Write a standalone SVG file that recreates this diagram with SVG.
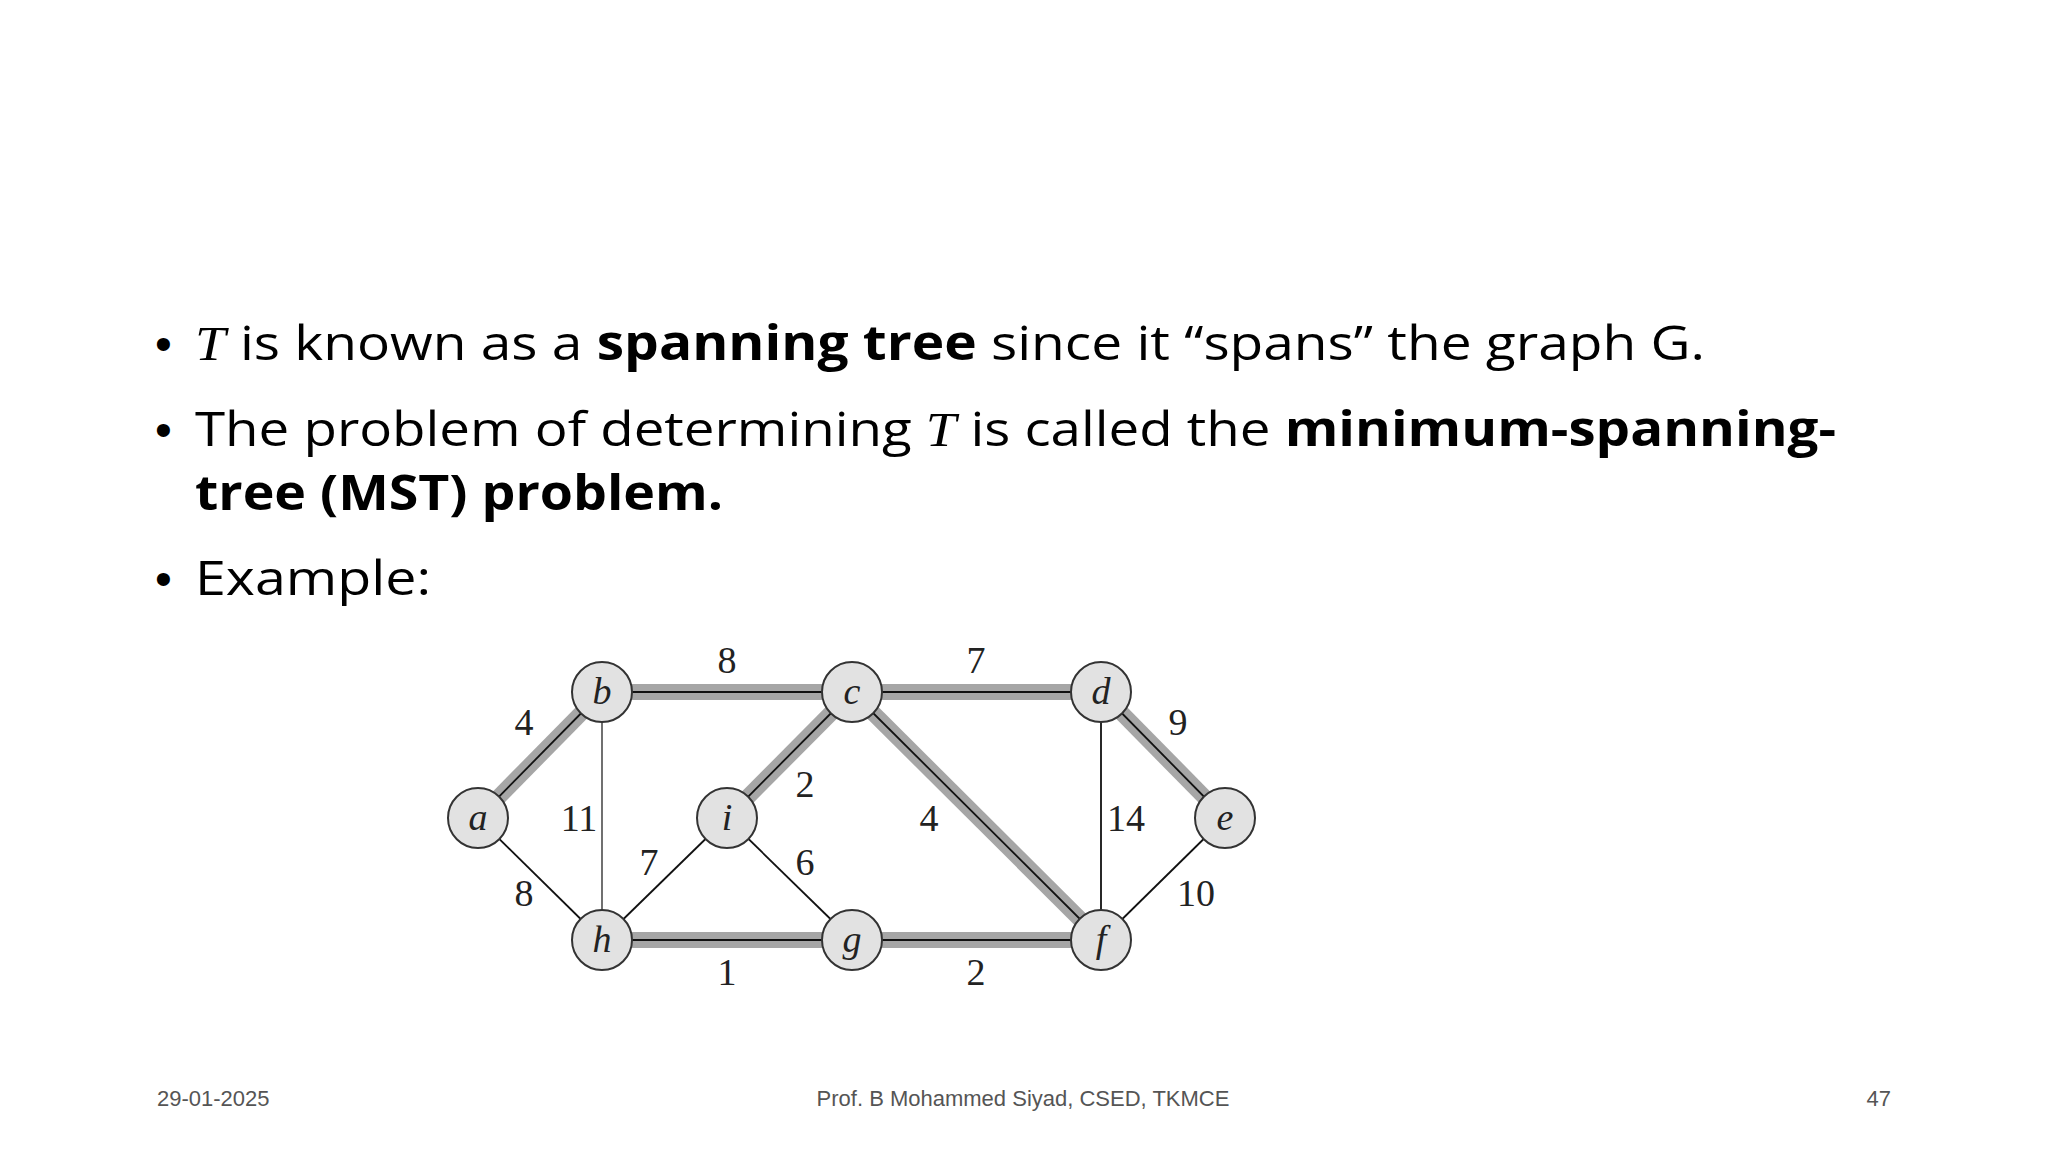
<svg xmlns="http://www.w3.org/2000/svg" width="2048" height="1152" viewBox="0 0 2048 1152">
<style>
.t{font-family:"Open Sans","Liberation Sans",sans-serif;font-size:48px;fill:#000}
.bl{font-family:"Liberation Sans",sans-serif;font-size:48px;fill:#000}
.b{font-weight:bold}
.m{font-family:"Liberation Serif",serif;font-style:italic}
.f{font-family:"Liberation Sans",sans-serif;font-size:22px;fill:#555}
.thick{stroke:#a6a6a6;stroke-width:16;fill:none}
.thin{stroke:#111;stroke-width:1.8;fill:none}
.node circle{fill:#e2e2e2;stroke:#333;stroke-width:2}
.node text,.w{font-family:"Liberation Serif",serif;font-size:38px;fill:#222;text-anchor:middle}
.node text{font-style:italic}
</style>
<rect width="2048" height="1152" fill="#fff"/>
<text class="bl" x="155" y="360">•</text>
<text class="t" x="195" y="360" textLength="1510" lengthAdjust="spacingAndGlyphs"><tspan class="m">T</tspan> is known as a <tspan class="b">spanning tree</tspan> since it “spans” the graph G.</text>
<text class="bl" x="155" y="446">•</text>
<text class="t" x="195" y="446" textLength="1641" lengthAdjust="spacingAndGlyphs">The problem of determining <tspan class="m">T</tspan> is called the <tspan class="b">minimum-spanning-</tspan></text>
<text class="t b" x="195" y="510" textLength="528" lengthAdjust="spacingAndGlyphs">tree (MST) problem.</text>
<text class="bl" x="155" y="595">•</text>
<text class="t" x="195" y="595" textLength="236" lengthAdjust="spacingAndGlyphs">Example:</text>
<g id="connectors">
<g class="thick">
<line x1="478" y1="818" x2="602" y2="692"/><line x1="602" y1="692" x2="852" y2="692"/>
<line x1="852" y1="692" x2="1101" y2="692"/><line x1="1101" y1="692" x2="1225" y2="818"/>
<line x1="852" y1="692" x2="727" y2="818"/><line x1="852" y1="692" x2="1101" y2="940"/>
<line x1="602" y1="940" x2="852" y2="940"/><line x1="852" y1="940" x2="1101" y2="940"/>
</g>
<g class="thin">
<line x1="478" y1="818" x2="602" y2="692"/><line x1="602" y1="692" x2="852" y2="692"/>
<line x1="852" y1="692" x2="1101" y2="692"/><line x1="1101" y1="692" x2="1225" y2="818"/>
<line x1="852" y1="692" x2="727" y2="818"/><line x1="852" y1="692" x2="1101" y2="940"/>
<line x1="602" y1="940" x2="852" y2="940"/><line x1="852" y1="940" x2="1101" y2="940"/>
<line x1="478" y1="818" x2="602" y2="940"/><line x1="602" y1="692" x2="602" y2="940" stroke-width="1.2"/>
<line x1="602" y1="940" x2="727" y2="818"/><line x1="727" y1="818" x2="852" y2="940"/>
<line x1="1101" y1="692" x2="1101" y2="940"/><line x1="1225" y1="818" x2="1101" y2="940"/>
</g>
<g class="w">
<text x="727" y="673">8</text><text x="976" y="673">7</text><text x="524" y="735">4</text><text x="1178" y="735">9</text>
<text x="579" y="831">11</text><text x="805" y="797">2</text><text x="929" y="831">4</text><text x="1126" y="831">14</text>
<text x="649" y="875">7</text><text x="805" y="875">6</text><text x="524" y="906">8</text><text x="1196" y="906">10</text>
<text x="727" y="985">1</text><text x="976" y="985">2</text>
</g>
</g>
<g id="a" class="node"><circle cx="478" cy="818" r="30"/><text x="478" y="830">a</text></g>
<g id="b" class="node"><circle cx="602" cy="692" r="30"/><text x="602" y="704">b</text></g>
<g id="c" class="node"><circle cx="852" cy="692" r="30"/><text x="852" y="704">c</text></g>
<g id="d" class="node"><circle cx="1101" cy="692" r="30"/><text x="1101" y="704">d</text></g>
<g id="e" class="node"><circle cx="1225" cy="818" r="30"/><text x="1225" y="830">e</text></g>
<g id="i" class="node"><circle cx="727" cy="818" r="30"/><text x="727" y="830">i</text></g>
<g id="h" class="node"><circle cx="602" cy="940" r="30"/><text x="602" y="952">h</text></g>
<g id="g" class="node"><circle cx="852" cy="940" r="30"/><text x="852" y="952">g</text></g>
<g id="f" class="node"><circle cx="1101" cy="940" r="30"/><text x="1101" y="952">f</text></g>
<text class="f" x="157" y="1106">29-01-2025</text>
<text class="f" x="1023" y="1106" text-anchor="middle">Prof. B Mohammed Siyad, CSED, TKMCE</text>
<text class="f" x="1891" y="1106" text-anchor="end">47</text>
</svg>
